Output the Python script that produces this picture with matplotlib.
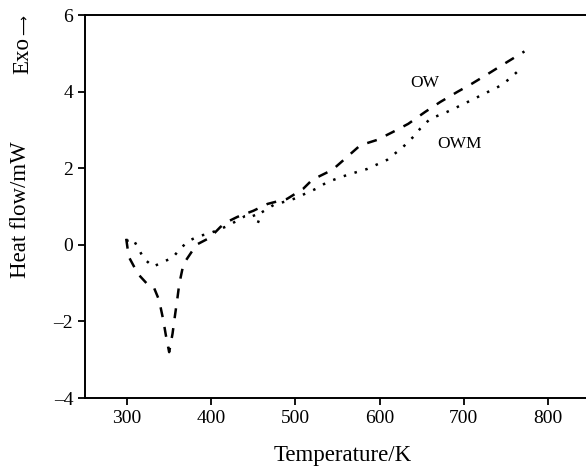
import matplotlib
matplotlib.use("Agg")
import matplotlib.pyplot as plt

ow_T = [299, 302, 313, 326, 332, 338, 343, 346, 350, 354, 357, 360, 362, 367, 378, 382, 396, 399,
        411, 419, 431, 450, 467, 490, 509, 520, 544, 559, 577, 597, 616, 634, 654, 672, 692, 709,
        727, 746, 772]
ow_H = [0.16, -0.31, -0.76, -1.07, -1.12, -1.44, -1.96, -2.35, -2.8, -2.32, -1.83, -1.36, -1.02,
        -0.5, -0.14, 0.0, 0.16, 0.2, 0.47, 0.6, 0.73, 0.89, 1.07, 1.2, 1.46, 1.7, 1.96, 2.25, 2.6,
        2.74, 2.95, 3.16, 3.47, 3.73, 3.99, 4.2, 4.44, 4.7, 5.05]

owm_T = [299, 307, 313, 320, 331, 343, 354, 363, 373, 385, 397, 420, 440, 450, 455, 460, 474, 498,
         524, 538, 562, 585, 609, 628, 640, 648, 660, 680, 700, 722, 743, 754, 765]
owm_H = [0.1, 0.16, -0.08, -0.36, -0.57, -0.44, -0.34, -0.1, 0.1, 0.23, 0.29, 0.5, 0.75, 0.8,
         0.55, 0.85, 1.04, 1.2, 1.46, 1.64, 1.83, 1.98, 2.22, 2.56, 2.82, 3.03, 3.29, 3.47, 3.68,
         3.92, 4.15, 4.33, 4.55]

x_ticks = [300, 400, 500, 600, 700, 800]
y_ticks = [-4, -2, 0, 2, 4, 6]
y_tick_labels = ["\u20134", "\u20132", "0", "2", "4", "6"]

plt.rcParams['font.family'] = ['Liberation Serif', 'DejaVu Serif']

fig = plt.figure(figsize=(5.86, 4.70), dpi=100)
ax = fig.add_axes([0.145, 0.153, 0.862, 0.815])

ax.plot(ow_T, ow_H, color='black', lw=1.8, linestyle=(0, (4, 4)))
ax.plot(owm_T, owm_H, color='black', lw=1.8, linestyle=(0, (1, 3.5)))

ax.set_xlim(250, 850)
ax.set_ylim(-4, 6)
ax.set_xticks(x_ticks)
ax.set_yticks(y_ticks)
ax.set_yticklabels(y_tick_labels)
ax.tick_params(direction='out', length=5, width=1.3, labelsize=14, colors='black')
for s in ax.spines.values():
    s.set_linewidth(1.4)

ax.text(653, 4.23, "OW", fontsize=12.5, ha='center', va='center')
ax.text(695, 2.64, "OWM", fontsize=12.5, ha='center', va='center')

fig.text(343 / 586, 1 - 455 / 470, "Temperature/K", fontsize=16.5, ha='center', va='center')
fig.text(21 / 586, 1 - 210 / 470, "Heat flow/mW", rotation=90, fontsize=16.5,
         ha='center', va='center')
fig.text(23 / 586, 1 - 56 / 470, "Exo", rotation=90, fontsize=16.5, ha='center', va='center')
fig.text(25 / 586, 1 - 25 / 470, "\u27f6", rotation=90, fontsize=10, ha='center', va='center',
         family='DejaVu Sans')

fig.savefig("out.png", dpi=100)
